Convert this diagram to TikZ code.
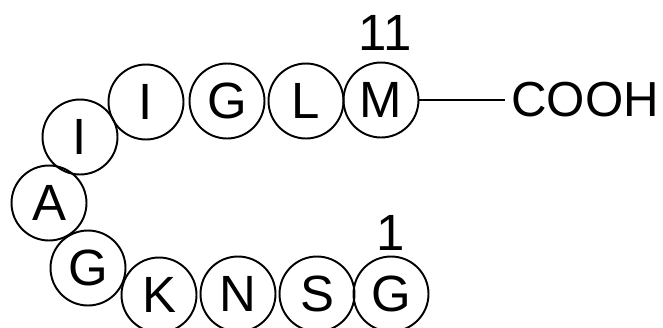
\documentclass[tikz,border=0pt]{standalone}
\usepackage{fontspec}
\setmainfont{Liberation Sans}
\usepackage{tikz}

\begin{document}
\begin{tikzpicture}[x=0.02cm, y=-0.02cm,
  residue/.style={draw, circle, line width=1.1pt, minimum size=1.5cm, inner sep=0pt, font=\fontsize{29}{34}\selectfont},
  numlabel/.style={inner sep=0pt, font=\fontsize{29}{34}\selectfont}]%
\useasboundingbox (0,0) rectangle (663,328);%
\node[residue] (G1) at (391, 294) {G};%
\node[residue] (S2) at (317, 294) {S};%
\node[residue] (N3) at (238, 294) {N};%
\node[residue] (K4) at (159, 295) {K};%
\node[residue] (G5) at (88, 268) {G};%
\node[residue] (A6) at (49, 203) {A};%
\node[residue] (I7) at (80, 137) {I};%
\node[residue] (I8) at (146, 102) {I};%
\node[residue] (G9) at (227, 101) {G};%
\node[residue] (L10) at (306, 101) {L};%
\node[residue] (M11) at (381, 100) {M};%
\node[numlabel] (first) at (391, 233) {1};%
\node[numlabel] (last) at (385, 33) {11};%
\node[anchor=west, inner xsep=0.12cm, inner ysep=0pt, font=\fontsize{28}{33}\selectfont] (cooh) at (505, 100) {COOH};%
\draw[line width=1.1pt] (M11) -- (cooh);%
\end{tikzpicture}
\end{document}
